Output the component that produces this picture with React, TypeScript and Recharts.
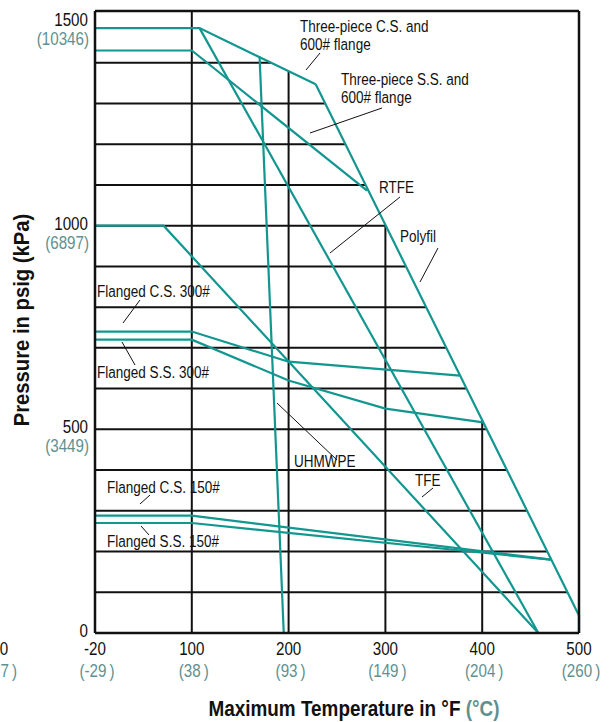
import React from 'react'
import { LineChart, Line, XAxis, YAxis, ReferenceLine } from 'recharts'

const TEAL = '#12968f'
const KPA = '#5e9190'
const FONT = "'Liberation Sans', Arial, sans-serif"

// axis ticks
const tempTicks = [-20, 100, 200, 300, 400, 500]
const celsiusLabels = ['(-29\u2009)', '(38\u2009)', '(93\u2009)', '(149\u2009)', '(204\u2009)', '(260\u2009)']
const psiTicks = [0, 500, 1000, 1500]
const kpaLabels = ['', '(3449)', '(6897)', '(10346)']
const gridPsi = [100, 200, 300, 400, 500, 600, 700, 800, 900, 1000, 1100, 1200, 1300, 1400]
const gridTemps = [100, 200, 300, 400]
const PSI_MAX = 1527

// series (temperature in °F, pressure in psig)
const threePieceCSTemp = [-20, 108, 228]
const threePieceCSPsi = [1485, 1485, 1347]
const polyfilTemp = [228, 500, 500]
const polyfilPsi = [1347, 43, 0]
const threePieceSSTemp = [-20, 100, 281]
const threePieceSSPsi = [1430, 1430, 1086]
const rtfeTemp = [108, 458]
const rtfePsi = [1485, 0]
const tfeTemp = [-20, 65, 458]
const tfePsi = [1000, 1000, 0]
const uhmwpeTemp = [170, 195]
const uhmwpePsi = [1415, 0]
const flangedCS300Temp = [-20, 100, 200, 377]
const flangedCS300Psi = [740, 740, 666, 632]
const flangedSS300Temp = [-20, 100, 200, 300, 401]
const flangedSS300Psi = [720, 720, 620, 551, 517]
const flangedCS150Temp = [-20, 100, 471]
const flangedCS150Psi = [288, 288, 180]
const flangedSS150Temp = [-20, 100, 471]
const flangedSS150Psi = [270, 270, 180]

// the -20..100 span is drawn as wide as one 100° step
const toPos = (t: number) => (t < 100 ? ((t + 20) * 100) / 120 : t)

const build = (temps: number[], psi: number[]) =>
  temps.map((t, i) => ({ x: toPos(t), y: psi[i] }))

const series = [
  build(threePieceCSTemp, threePieceCSPsi),
  build(polyfilTemp, polyfilPsi),
  build(threePieceSSTemp, threePieceSSPsi),
  build(rtfeTemp, rtfePsi),
  build(tfeTemp, tfePsi),
  build(uhmwpeTemp, uhmwpePsi),
  build(flangedCS300Temp, flangedCS300Psi),
  build(flangedSS300Temp, flangedSS300Psi),
  build(flangedCS150Temp, flangedCS150Psi),
  build(flangedSS150Temp, flangedSS150Psi),
]

// outer envelope, the grid stops there
const envelope = [...build(threePieceCSTemp, threePieceCSPsi), ...build(polyfilTemp, polyfilPsi)]

const envelopeX = (p: number) => {
  for (let i = 0; i < envelope.length - 1; i++) {
    const a = envelope[i]
    const b = envelope[i + 1]
    if (a.y !== b.y && a.y >= p && b.y <= p) return a.x + ((a.y - p) / (a.y - b.y)) * (b.x - a.x)
  }
  return 500
}

const envelopeY = (x: number) => {
  for (let i = 0; i < envelope.length - 1; i++) {
    const a = envelope[i]
    const b = envelope[i + 1]
    if (a.x !== b.x && a.x <= x && b.x >= x) {
      const y = a.y + ((x - a.x) / (b.x - a.x)) * (b.y - a.y)
      return y >= envelope[0].y ? PSI_MAX : y
    }
  }
  return PSI_MAX
}

const gridLines = [
  ...gridPsi.map((p) => [{ x: 0, y: p }, { x: envelopeX(p), y: p }]),
  ...gridTemps.map((t) => [{ x: toPos(t), y: 0 }, { x: toPos(t), y: envelopeY(toPos(t)) }]),
]

// condensed text: regular face squeezed horizontally
const Narrow = ({ x, y, size, squeeze = 0.82, anchor = 'start', fill = '#111', bold = false, children }: any) => (
  <text
    transform={`translate(${x},${y}) scale(${squeeze},1)`}
    fontFamily={FONT}
    fontSize={size}
    fontWeight={bold ? 'bold' : 'normal'}
    textAnchor={anchor}
    fill={fill}
  >
    {children}
  </text>
)

const XTick = ({ x, y, payload }: any) => {
  const i = tempTicks.map(toPos).indexOf(payload.value)
  return (
    <g>
      <Narrow x={x} y={y + 22} size={18.5} anchor="middle">{tempTicks[i]}</Narrow>
      <Narrow x={x + 2} y={y + 44} size={18.5} anchor="middle" fill={KPA}>{celsiusLabels[i]}</Narrow>
    </g>
  )
}

const YTick = ({ x, y, payload }: any) => {
  const i = psiTicks.indexOf(payload.value)
  return (
    <g>
      <Narrow x={x - 7} y={y + 4} size={18.5} anchor="end">{psiTicks[i]}</Narrow>
      {kpaLabels[i] && (
        <Narrow x={x - 6} y={y + 23} size={18.5} anchor="end" fill={KPA}>{kpaLabels[i]}</Narrow>
      )}
    </g>
  )
}

const labels = [
  { text: 'Three-piece C.S. and', x: 300, y: 32 },
  { text: '600# flange', x: 300, y: 50 },
  { text: 'Three-piece S.S. and', x: 341, y: 85 },
  { text: '600# flange', x: 341, y: 103 },
  { text: 'RTFE', x: 379, y: 193 },
  { text: 'Polyfil', x: 400, y: 242 },
  { text: 'Flanged C.S. 300#', x: 97, y: 297 },
  { text: 'Flanged S.S. 300#', x: 97, y: 378 },
  { text: 'UHMWPE', x: 294, y: 467 },
  { text: 'TFE', x: 415, y: 486 },
  { text: 'Flanged C.S. 150#', x: 107, y: 493 },
  { text: 'Flanged S.S. 150#', x: 107, y: 547 },
]

const leaders = [
  [320, 53, 306, 70],
  [382, 108, 310, 133],
  [400, 197, 330, 253],
  [438, 248, 420, 282],
  [140, 300, 123, 323],
  [122, 342, 135, 365],
  [277, 403, 337, 460],
  [433, 488, 422, 497],
  [150, 495, 140, 504],
  [141, 526, 149, 535],
]

export default function App() {
  return (
    <div style={{ position: 'absolute', left: 0, top: 0, width: 615, height: 722 }}>
      <LineChart width={615} height={722} margin={{ top: 11, right: 36, bottom: 29, left: 0 }}>
        <XAxis
          type="number"
          dataKey="x"
          domain={[0, 500]}
          ticks={tempTicks.map(toPos)}
          tick={<XTick />}
          tickSize={0}
          tickMargin={0}
          axisLine={false}
          height={60}
          interval={0}
        />
        <YAxis
          type="number"
          dataKey="y"
          domain={[0, PSI_MAX]}
          ticks={psiTicks}
          tick={<YTick />}
          tickSize={0}
          tickMargin={0}
          axisLine={false}
          width={95}
          interval={0}
        />
        {gridLines.map((d, i) => (
          <Line
            key={`grid-${i}`}
            data={d}
            dataKey="y"
            stroke="#111"
            strokeWidth={2}
            dot={false}
            isAnimationActive={false}
          />
        ))}
        {series.map((d, i) => (
          <Line
            key={`s-${i}`}
            data={d}
            dataKey="y"
            stroke={TEAL}
            strokeWidth={2.2}
            dot={false}
            isAnimationActive={false}
          />
        ))}
        <ReferenceLine x={0} stroke="#111" strokeWidth={2.5} />
        <ReferenceLine x={500} stroke="#111" strokeWidth={2.5} />
        <ReferenceLine y={0} stroke="#111" strokeWidth={2.5} />
        <ReferenceLine y={PSI_MAX} stroke="#111" strokeWidth={2.5} />
      </LineChart>
      <svg
        width={615}
        height={722}
        style={{ position: 'absolute', left: 0, top: 0, pointerEvents: 'none' }}
      >
        {labels.map((l, i) => (
          <Narrow key={i} x={l.x} y={l.y} size={16.5}>{l.text}</Narrow>
        ))}
        {leaders.map((l, i) => (
          <line key={i} x1={l[0]} y1={l[1]} x2={l[2]} y2={l[3]} stroke="#111" strokeWidth={1} />
        ))}
        <Narrow x={4} y={655} size={18.5} anchor="middle">0</Narrow>
        <Narrow x={17} y={677} size={18.5} anchor="end" fill={KPA}>(-17{'\u2009'})</Narrow>
        <Narrow x={354} y={716} size={22} squeeze={0.86} anchor="middle" bold>
          Maximum Temperature in °F <tspan fill={KPA}>(°C)</tspan>
        </Narrow>
        <text
          transform="translate(29,320) rotate(-90) scale(0.9,1)"
          textAnchor="middle"
          fontFamily={FONT}
          fontSize={22.5}
          fontWeight="bold"
          fill="#111"
        >
          Pressure in psig (kPa)
        </text>
      </svg>
    </div>
  )
}
